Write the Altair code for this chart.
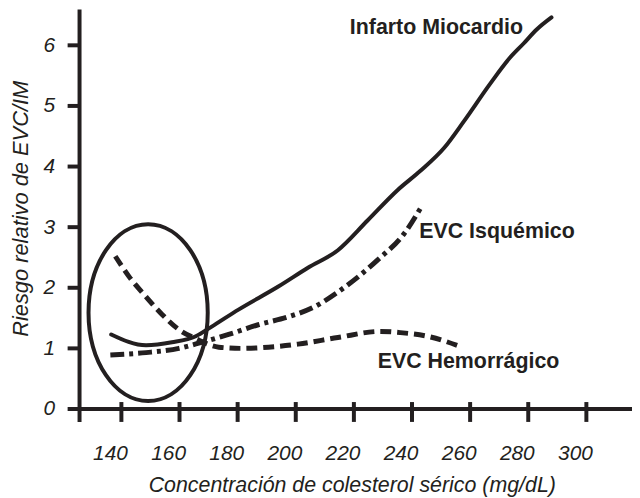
import altair as alt
import pandas as pd

# Infarto Miocardio (solid)
im_x = [136.5, 148.5, 157.4, 165.6, 171.1, 180.3, 194.0, 204.2, 214.5, 224.7, 235.0, 242.9, 251.1, 257.9, 266.8, 273.6, 278.4, 282.9, 288.0]
im_y = [1.23, 1.05, 1.10, 1.20, 1.36, 1.64, 2.02, 2.33, 2.62, 3.11, 3.61, 3.93, 4.31, 4.75, 5.36, 5.79, 6.03, 6.26, 6.46]
# EVC Isquémico (dash-dot)
isq_x = [136.2, 148.5, 159.8, 167.6, 176.9, 187.1, 197.4, 206.6, 214.5, 228.2, 237.4, 242.9]
isq_y = [0.89, 0.93, 1.00, 1.10, 1.23, 1.39, 1.52, 1.69, 1.93, 2.46, 2.90, 3.31]
# EVC Hemorrágico (dashed)
hem_x = [137.9, 142.7, 148.5, 154.0, 159.8, 165.6, 173.5, 181.3, 190.6, 200.8, 214.5, 229.2, 236.0, 245.3, 257.2]
hem_y = [2.52, 2.18, 1.85, 1.56, 1.31, 1.16, 1.02, 1.00, 1.02, 1.07, 1.18, 1.28, 1.26, 1.20, 1.02]

label_text = ["Infarto Miocardio", "EVC Isquémico", "EVC Hemorrágico"]
label_x = [218.6, 242.5, 228.2]
label_y = [6.28, 2.92, 0.77]

ellipse_x = [149.2]
ellipse_y = [1.59]

x_ticks = [140, 160, 180, 200, 220, 240, 260, 280, 300]
y_ticks = [0, 1, 2, 3, 4, 5, 6]

X_MIN, X_MAX = 125.6, 315.7
Y_MIN, Y_MAX = 0, 6.59

INK = "#231f20"
FONT = "Liberation Sans"

xs = alt.Scale(domain=[X_MIN, X_MAX], nice=False, zero=False)
ys = alt.Scale(domain=[Y_MIN, Y_MAX], nice=False, zero=False)

im_df = pd.DataFrame({"x": im_x, "y": im_y})
isq_df = pd.DataFrame({"x": isq_x, "y": isq_y})
hem_df = pd.DataFrame({"x": hem_x, "y": hem_y})
lab_df = pd.DataFrame({"x": label_x, "y": label_y, "t": label_text})
ell_df = pd.DataFrame({"x": ellipse_x, "y": ellipse_y})
xt_df = pd.DataFrame({"x": x_ticks, "t": [str(v) for v in x_ticks]})
yt_df = pd.DataFrame({"y": y_ticks})
frame_df = pd.DataFrame({"x": [X_MIN], "x1": [X_MAX], "y": [Y_MIN], "y1": [Y_MAX]})

x_axis = alt.Axis(
    values=x_ticks, format="d", title="Concentración de colesterol sérico (mg/dL)",
    titleFont=FONT, titleFontSize=21.5, titleFontStyle="italic", titleFontWeight="normal",
    titleColor=INK, titleX=274, titleY=83, titleBaseline="alphabetic", titleAlign="center",
    labels=False, ticks=False, domain=False, grid=False,
)
y_axis = alt.Axis(
    values=y_ticks, format="d", title="Riesgo relativo de EVC/IM",
    titleFont=FONT, titleFontSize=22, titleFontStyle="italic", titleFontWeight="normal",
    titleColor=INK, titleX=-59, titleY=200, titleAngle=270, titleAlign="center",
    titleBaseline="middle",
    labelFont=FONT, labelFontSize=21, labelFontStyle="italic", labelColor=INK,
    labelPadding=25, labelBaseline="middle", labelFlush=False,
    ticks=False, domain=False, grid=False,
)

X = alt.X("x:Q", scale=xs, axis=x_axis)
Y = alt.Y("y:Q", scale=ys, axis=y_axis)

# axis lines and ticks drawn as rules through the scales
x_line = alt.Chart(frame_df).mark_rule(strokeWidth=4, color=INK).encode(
    x=X, x2="x1:Q", y=Y
)
y_line = alt.Chart(frame_df).mark_rule(strokeWidth=4, color=INK, y2Offset=13).encode(
    x=X, y=alt.Y("y1:Q", scale=ys, axis=y_axis), y2="y:Q"
)
y_tick_rules = alt.Chart(yt_df).transform_calculate(
    x=str(X_MIN)
).mark_rule(strokeWidth=4, color=INK, xOffset=-12).encode(
    x=X, x2="x:Q", y=Y
)
x_tick_rules = alt.Chart(xt_df).transform_calculate(y="0").mark_rule(
    strokeWidth=4, color=INK, yOffset=-7, y2Offset=13
).encode(x=X, y=Y, y2="y:Q")
x_tick_labels = alt.Chart(xt_df).transform_calculate(
    xl="datum.x - 3.76", y="0"
).mark_text(
    font=FONT, fontSize=21, fontStyle="italic", color=INK,
    align="center", baseline="top", dy=34,
).encode(x=alt.X("xl:Q", scale=xs, axis=x_axis), y=Y, text="t:N")

im = alt.Chart(im_df).mark_line(
    interpolate="monotone", strokeWidth=4, color=INK, strokeCap="round"
).encode(x=X, y=Y)

isq = alt.Chart(isq_df).mark_line(
    interpolate="monotone", strokeWidth=5, color=INK, strokeDash=[14, 5, 4, 5]
).encode(x=X, y=Y)

hem = alt.Chart(hem_df).mark_line(
    interpolate="monotone", strokeWidth=5, color=INK, strokeDash=[11, 6]
).encode(x=X, y=Y)

ell = alt.Chart(ell_df).mark_point(
    shape="M0,-1A0.674,1,0,1,1,0,1A0.674,1,0,1,1,0,-1Z",
    size=31684, filled=False, strokeWidth=4, color=INK, opacity=1,
).encode(x=X, y=Y)

labels = alt.Chart(lab_df).mark_text(
    align="left", baseline="middle", font=FONT, fontSize=21.5, fontWeight="bold", color=INK,
).encode(x=X, y=Y, text="t:N")

chart = alt.layer(
    im, isq, hem, ell, labels, x_line, y_line, y_tick_rules, x_tick_rules, x_tick_labels
).properties(
    width=556, height=402,
    autosize=alt.AutoSizeParams(type="none"),
    padding={"left": 72, "top": 0, "right": 0, "bottom": 88},
    background="white",
).configure_view(stroke=None)

chart.save("out.html", embed_options={"renderer": "svg", "actions": False})
